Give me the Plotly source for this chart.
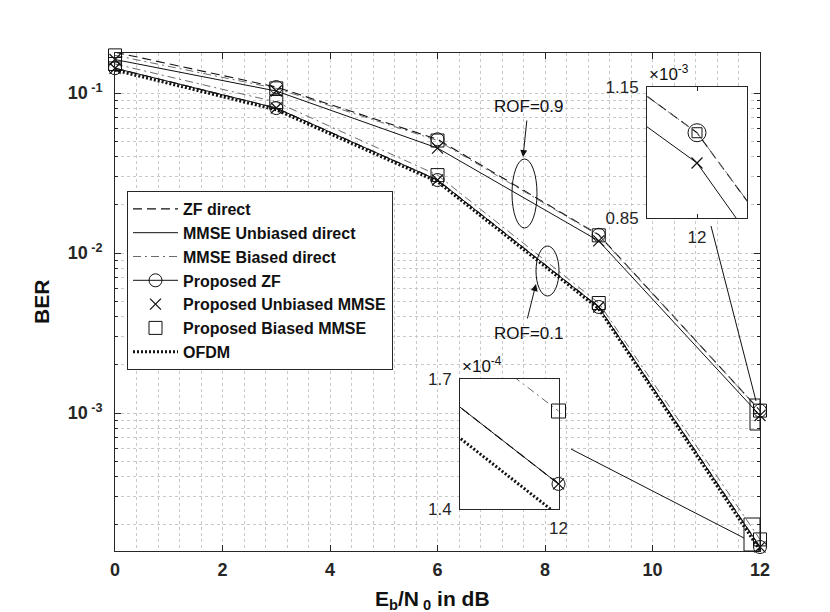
import math
import plotly.graph_objects as go

# Eb/N0 in dB; the 15 dB point only shows as the slope leaving the upper inset
ebn0 = [0, 3, 6, 9, 12, 15]

# ROF = 0.9 (upper bundle)
zf_rof09 = [0.180, 0.109, 0.0514, 0.0130, 1.035e-3, 9.1e-6]
unb_rof09 = [0.162, 0.103, 0.0453, 0.0119, 0.965e-3, 7.3e-6]
bias_rof09 = [0.172, 0.107, 0.0505, 0.0129, 1.035e-3, 9.3e-6]

# ROF = 0.1 (lower bundle)
zf_rof01 = [0.143, 0.0806, 0.0286, 0.00460, 1.453e-4]
unb_rof01 = [0.143, 0.0806, 0.0286, 0.00460, 1.453e-4]
bias_rof01 = [0.152, 0.0879, 0.0307, 0.00487, 1.621e-4]

ofdm = [0.139, 0.0785, 0.0279, 0.00448, 1.386e-4]

x_ticks = [0, 2, 4, 6, 8, 10, 12]
y_decades = [1e-3, 1e-2, 1e-1]
y_decade_text = ["10<sup> -3</sup>", "10<sup> -2</sup>", "10<sup> -1</sup>"]
y_minor = [k * 10.0 ** e for e in (-4, -3, -2, -1) for k in range(2, 10)]

FONT = "Liberation Sans"
AXC = "#262626"
GRID = "#c8c8c8"

# pixel -> paper helpers for the decorations (plot box 107..752 x 45..543)
L, R, T, B = 107, 752, 45, 543
def px(x): return (x - L) / (R - L)
def py(y): return (B - y) / (B - T)

st_zf = dict(color="#111111", width=1.1, dash="9px,5px")
st_unb = dict(color="#111111", width=1)
st_bias = dict(color="#6a6a6a", width=1, dash="8px,4px,2px,4px")
st_ofdm = dict(color="#111111", width=3, dash="2px,2px")

m_circ = dict(symbol="circle-open", size=13, color="#111111", line=dict(width=1, color="#111111"))
m_x = dict(symbol="x-thin", size=11, color="#111111", line=dict(width=1.2, color="#111111"))
m_sq = dict(symbol="square-open", size=13, color="#111111", line=dict(width=1, color="#111111"))

fig = go.Figure()

def line(xs, ys, style, name, rank, xa, ya, show):
    fig.add_trace(go.Scatter(x=xs, y=ys, mode="lines", line=style, name=name,
                             legendrank=rank, showlegend=show, xaxis=xa, yaxis=ya,
                             hoverinfo="skip"))

def marks(xs, ys, marker, name, rank, xa, ya, show):
    fig.add_trace(go.Scatter(x=xs, y=ys, mode="markers", marker=marker, name=name,
                             legendrank=rank, showlegend=show, xaxis=xa, yaxis=ya,
                             cliponaxis=False, hoverinfo="skip"))

n01 = len(ofdm)
for xa, ya in [("x", "y"), ("x2", "y2"), ("x3", "y3")]:
    main = xa == "x"
    line(ebn0, zf_rof09, st_zf, "ZF direct", 1, xa, ya, main)
    line(ebn0[:n01], zf_rof01, st_zf, "ZF direct", 1, xa, ya, False)
    line(ebn0, unb_rof09, st_unb, "MMSE Unbiased direct", 2, xa, ya, main)
    line(ebn0[:n01], unb_rof01, st_unb, "MMSE Unbiased direct", 2, xa, ya, False)
    line(ebn0, bias_rof09, st_bias, "MMSE Biased direct", 3, xa, ya, main)
    line(ebn0[:n01], bias_rof01, st_bias, "MMSE Biased direct", 3, xa, ya, False)
    line(ebn0[:n01], ofdm, st_ofdm, "OFDM", 7, xa, ya, main)

# markers on the main axes
for zf, unb, bias in [(zf_rof09, unb_rof09, bias_rof09), (zf_rof01, unb_rof01, bias_rof01)]:
    first = zf is zf_rof09
    marks(ebn0[:n01], zf[:n01], m_circ, "Proposed ZF", 4, "x", "y", False)
    marks(ebn0[:n01], unb[:n01], m_x, "Proposed Unbiased MMSE", 5, "x", "y", first)
    marks(ebn0[:n01], bias[:n01], m_sq, "Proposed Biased MMSE", 6, "x", "y", first)

# legend entry for Proposed ZF (line + circle)
fig.add_trace(go.Scatter(x=[None], y=[None], mode="lines+markers", line=st_unb, marker=m_circ,
                         name="Proposed ZF", legendrank=4, xaxis="x", yaxis="y"))

# markers at 12 dB inside the insets
i12 = ebn0.index(12)
for (zf, unb, bias), xa, ya in [((zf_rof09, unb_rof09, bias_rof09), "x2", "y2"),
                                ((zf_rof01, unb_rof01, bias_rof01), "x3", "y3")]:
    big_c = dict(m_circ, size=18)
    small_s = dict(m_sq, size=10) if xa == "x2" else dict(m_sq, size=14)
    marks([ebn0[i12]], [zf[i12]], big_c if xa == "x2" else m_circ, "", 0, xa, ya, False)
    marks([ebn0[i12]], [unb[i12]], m_x, "", 0, xa, ya, False)
    marks([ebn0[i12]], [bias[i12]], small_s, "", 0, xa, ya, False)

tickf = dict(family=FONT, size=18, color=AXC, weight="bold")
insf = dict(family=FONT, size=17, color=AXC)

inset_x = dict(showline=True, linecolor=AXC, mirror="allticks", ticks="inside", ticklen=4,
               tickcolor=AXC, showgrid=False, zeroline=False, tickvals=[12], ticktext=["12"],
               tickfont=insf, ticklabelstandoff=4)
inset_y = dict(type="log", showline=True, linecolor=AXC, mirror=True, ticks="",
               showgrid=False, zeroline=False, tickfont=insf, ticklabelstandoff=4)

fig.update_layout(
    width=830, height=612,
    margin=dict(l=L, r=830 - R, t=T, b=612 - B),
    paper_bgcolor="white", plot_bgcolor="white",
    font=dict(family=FONT, color=AXC),
    xaxis=dict(domain=[0, 1], range=[0, 12], tickvals=x_ticks, ticks="inside", ticklen=6,
               tickcolor=AXC, showline=True, linecolor=AXC, mirror="allticks",
               showgrid=True, gridcolor=GRID, griddash="dot", zeroline=False,
               tickfont=tickf, ticklabelstandoff=2,
               minor=dict(dtick=0.4, tick0=0, ticks="", showgrid=True, gridcolor=GRID,
                          griddash="dot")),
    yaxis=dict(domain=[0, 1], type="log", range=[math.log10(1.372e-4), math.log10(0.178)],
               tickvals=y_decades, ticktext=y_decade_text, ticks="inside", ticklen=6,
               tickcolor=AXC, showline=True, linecolor=AXC, mirror="allticks",
               showgrid=True, gridcolor=GRID, griddash="dot", zeroline=False,
               tickfont=tickf, ticklabelstandoff=8,
               minor=dict(tickvals=y_minor, ticks="inside", ticklen=3, tickcolor=AXC,
                          showgrid=True, gridcolor=GRID, griddash="dot")),
    xaxis2=dict(inset_x, domain=[px(639), px(739)], range=[11.9, 12.1], anchor="y2"),
    yaxis2=dict(inset_y, domain=[py(210), py(79)], anchor="x2",
                range=[math.log10(0.85e-3) - 2e-4, math.log10(1.15e-3) + 2e-4],
                tickvals=[0.85e-3, 1.15e-3], ticktext=["0.85", "1.15"]),
    xaxis3=dict(inset_x, domain=[px(452), px(551)], range=[11.9, 12.0005], anchor="y3"),
    yaxis3=dict(inset_y, domain=[py(501), py(371)], anchor="x3",
                range=[math.log10(1.4e-4) - 2e-4, math.log10(1.7e-4) + 2e-4],
                tickvals=[1.4e-4, 1.7e-4], ticktext=["1.4", "1.7"]),
    legend=dict(x=px(119), y=py(183), xanchor="left", yanchor="top", bgcolor="white",
                bordercolor=AXC, borderwidth=1, itemwidth=45, tracegroupgap=0,
                entrywidth=255, entrywidthmode="pixels",
                font=dict(family=FONT, size=16, color="#111111", weight="bold")),
)

def ptext(x, y, text, size=17, bold=False, angle=0, xanchor="center", yanchor="middle"):
    fig.add_annotation(x=px(x), y=py(y), xref="paper", yref="paper", text=text,
                       showarrow=False, textangle=angle, xanchor=xanchor, yanchor=yanchor,
                       font=dict(family=FONT, size=size, color="#111111",
                                 weight="bold" if bold else "normal"))

def arrow(x_tip, y_tip, x_tail, y_tail):
    fig.add_annotation(x=px(x_tip), y=py(y_tip), xref="paper", yref="paper", text="",
                       showarrow=True, arrowhead=2, arrowsize=1.4, arrowwidth=1,
                       arrowcolor="#111111", ax=x_tail - x_tip, ay=y_tail - y_tip)

def pshape(kind, x0, y0, x1, y1):
    fig.add_shape(type=kind, xref="paper", yref="paper", x0=px(x0), y0=py(y0),
                  x1=px(x1), y1=py(y1), line=dict(color="#111111", width=1))

# axis titles
ptext(33, 294, "BER", size=21, bold=True, angle=-90)
ptext(424, 592, "E<sub>b</sub>/N<sub> 0</sub> in dB", size=21, bold=True)

# ROF call-outs
ptext(520, 98, "ROF=0.9")
arrow(515, 149, 519, 111)
pshape("circle", 504, 151, 529, 220)
ptext(520, 325, "ROF=0.1")
arrow(528, 276, 519, 312)
pshape("circle", 528, 238, 551, 288)

# inset exponents
ptext(639, 78, "×10<sup>-3</sup>", size=17, xanchor="left", yanchor="bottom")
ptext(452, 370, "×10<sup>-4</sup>", size=17, xanchor="left", yanchor="bottom")

# zoom boxes and leader lines
pshape("rect", 742, 391, 752, 422)
pshape("rect", 736, 510, 752, 543)
pshape("line", 703, 218, 748, 393)
pshape("line", 563, 441, 736, 530)

fig.write_html("out.html")
